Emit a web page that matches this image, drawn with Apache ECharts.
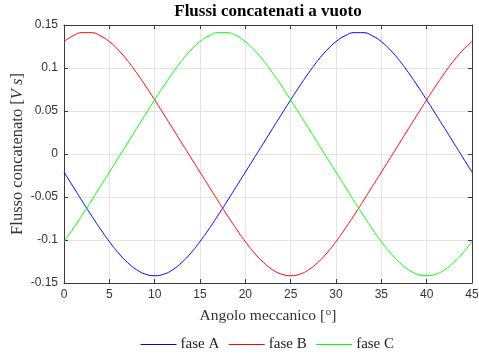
<!DOCTYPE html>
<html>
<head>
<meta charset="utf-8">
<script src="https://cdn.jsdelivr.net/npm/echarts@6/dist/echarts.min.js"></script>
<style>html,body{margin:0;padding:0;background:#fff}#c{width:479px;height:358px}</style>
</head>
<body>
<div id="c"></div>
<script>
var angles = [0,1,2,3,4,5,6,7,8,9,10,11,12,13,14,15,16,17,18,19,20,21,22,23,24,25,26,27,28,29,30,31,32,33,34,35,36,37,38,39,40,41,42,43,44,45];
var faseA = [-0.0211,-0.0379,-0.0547,-0.0711,-0.0870,-0.1018,-0.1151,-0.1261,-0.1345,-0.1398,-0.1415,-0.1398,-0.1345,-0.1261,-0.1151,-0.1018,-0.0870,-0.0711,-0.0547,-0.0379,-0.0211,-0.0043,0.0126,0.0295,0.0463,0.0630,0.0791,0.0945,0.1087,0.1208,0.1307,0.1375,0.1411,0.1411,0.1375,0.1307,0.1208,0.1087,0.0945,0.0791,0.0630,0.0463,0.0295,0.0126,-0.0043,-0.0211];
var faseB = [0.1307,0.1375,0.1411,0.1411,0.1375,0.1307,0.1208,0.1087,0.0945,0.0791,0.0630,0.0463,0.0295,0.0126,-0.0043,-0.0211,-0.0379,-0.0547,-0.0711,-0.0870,-0.1018,-0.1151,-0.1261,-0.1345,-0.1398,-0.1415,-0.1398,-0.1345,-0.1261,-0.1151,-0.1018,-0.0870,-0.0711,-0.0547,-0.0379,-0.0211,-0.0043,0.0126,0.0295,0.0463,0.0630,0.0791,0.0945,0.1087,0.1208,0.1307];
var faseC = [-0.1018,-0.0870,-0.0711,-0.0547,-0.0379,-0.0211,-0.0043,0.0126,0.0295,0.0463,0.0630,0.0791,0.0945,0.1087,0.1208,0.1307,0.1375,0.1411,0.1411,0.1375,0.1307,0.1208,0.1087,0.0945,0.0791,0.0630,0.0463,0.0295,0.0126,-0.0043,-0.0211,-0.0379,-0.0547,-0.0711,-0.0870,-0.1018,-0.1151,-0.1261,-0.1345,-0.1398,-0.1415,-0.1398,-0.1345,-0.1261,-0.1151,-0.1018];
var seriesNames = ['fase A','fase B','fase C'];
var seriesColors = ['#0000ff','#ff0000','#00ff00'];
var yTicks = ['-0.15','-0.1','-0.05','0','0.05','0.1','0.15'];
var xTicks = ['0','5','10','15','20','25','30','35','40','45'];

function pairs(xs, ys){ return xs.map(function(x,i){ return [x, ys[i]]; }); }
var serif = '"Liberation Serif","DejaVu Serif",serif';
var sans = '"Liberation Sans",Arial,sans-serif';
var axisCol = '#3a3a3a';

var chart = echarts.init(document.getElementById('c'), null, {renderer:'canvas'});
var data = [faseA, faseB, faseC];
chart.setOption({
  animation: false,
  title: {
    text: 'Flussi concatenati a vuoto',
    left: 268, top: 3, textAlign: 'center', padding: 0,
    textStyle: {fontFamily: serif, fontWeight: 'bold', fontSize: 17, color: '#000'}
  },
  grid: {left: 64, right: 7, top: 25, bottom: 75, containLabel: false, outerBoundsMode: 'none'},
  legend: {
    bottom: 6, left: 140, padding: 0,
    itemWidth: 36, itemHeight: 10, itemGap: 9,
    itemStyle: {opacity: 0},
    lineStyle: {width: 1},
    textStyle: {fontFamily: serif, fontSize: 15, color: '#222', padding: [0, 0, 0, -1]},
    data: seriesNames
  },
  xAxis: [{
    type: 'value', min: 0, max: 45, interval: 5,
    name: 'Angolo meccanico [°]', nameLocation: 'middle', nameGap: 25,
    nameTextStyle: {fontFamily: serif, fontSize: 15.5, color: '#333'},
    axisLine: {show: true, onZero: false, lineStyle: {color: axisCol, width: 1}},
    axisTick: {show: true, inside: true, length: 4, lineStyle: {color: axisCol}},
    axisLabel: {fontFamily: sans, fontSize: 12, color: '#333', margin: 6,
      formatter: function(v){ var i = Math.round(v/5); return xTicks[i]; }},
    splitLine: {show: true, lineStyle: {color: '#e3e3e3', width: 1}}
  },{
    type: 'value', position: 'top', min: 0, max: 45, interval: 5,
    axisLine: {show: true, onZero: false, lineStyle: {color: axisCol, width: 1}},
    axisTick: {show: true, inside: true, length: 4, lineStyle: {color: axisCol}},
    axisLabel: {show: false}, splitLine: {show: false}
  }],
  yAxis: [{
    type: 'value', min: -0.15, max: 0.15, interval: 0.05,
    name: '{a|Flusso concatenato [}{i|V s}{a|]}', nameLocation: 'middle', nameGap: 38, nameRotate: 90,
    nameMoveOverlap: false,
    nameTextStyle: {rich: {
      a: {fontFamily: serif, fontSize: 16.5, color: '#333'},
      i: {fontFamily: serif, fontSize: 16.5, color: '#333', fontStyle: 'italic'}
    }},
    axisLine: {show: true, onZero: false, lineStyle: {color: axisCol, width: 1}},
    axisTick: {show: true, inside: true, length: 4, lineStyle: {color: axisCol}},
    axisLabel: {fontFamily: sans, fontSize: 12, color: '#333', margin: 6,
      formatter: function(v){ var i = Math.round((v + 0.15)/0.05); return yTicks[i]; }},
    splitLine: {show: true, lineStyle: {color: '#e3e3e3', width: 1}}
  },{
    type: 'value', position: 'right', min: -0.15, max: 0.15, interval: 0.05,
    axisLine: {show: true, onZero: false, lineStyle: {color: axisCol, width: 1}},
    axisTick: {show: true, inside: true, length: 4, lineStyle: {color: axisCol}},
    axisLabel: {show: false}, splitLine: {show: false}
  }],
  series: seriesNames.map(function(n, k){
    return {
      name: n, type: 'line', smooth: true, symbol: 'none',
      data: pairs(angles, data[k]),
      lineStyle: {color: seriesColors[k], width: 1},
      itemStyle: {color: seriesColors[k]}
    };
  })
});
</script>
</body>
</html>
